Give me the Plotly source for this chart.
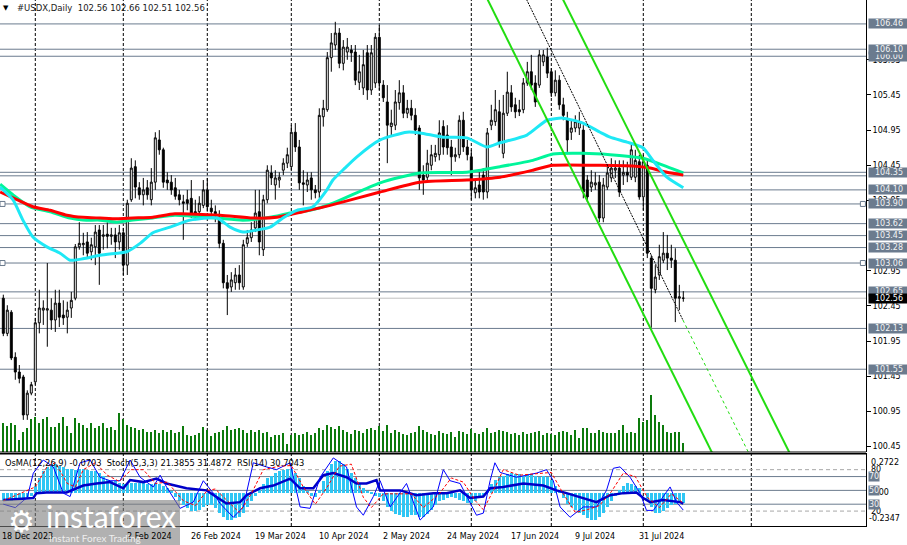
import plotly.graph_objects as go

# ---------------- data ----------------
bars = list(range(171))

opens = [102.56,102.06,102.36,101.72,101.51,101.44,100.90,101.21,101.37,102.21,
         102.39,102.39,102.39,102.25,102.49,102.32,102.29,102.42,102.56,103.29,
         103.32,103.36,103.22,103.29,103.53,103.44,103.47,103.44,103.46,103.36,
         103.49,103.03,103.96,104.43,104.13,104.03,104.13,103.96,104.21,104.81,
         104.67,104.24,104.21,104.13,104.03,103.93,103.96,103.98,103.79,103.79,
         103.88,104.10,103.84,103.79,103.71,103.34,102.78,102.72,102.78,102.89,
         102.72,103.34,103.42,103.56,103.79,103.25,103.96,104.34,104.17,104.24,
         104.38,104.48,104.43,104.92,104.71,104.20,104.17,104.27,104.10,104.07,
         105.14,105.24,105.98,106.16,106.33,105.90,106.06,106.09,106.06,105.63,
         105.55,106.05,105.52,105.62,106.27,105.59,105.35,105.00,105.02,105.34,
         105.48,105.19,105.26,105.16,104.98,104.31,104.28,104.45,104.57,104.60,
         105.00,104.88,104.71,104.57,104.60,105.09,104.71,104.57,104.06,104.17,
         104.31,104.07,105.02,105.07,105.21,104.62,105.19,105.48,105.31,105.24,
         105.24,105.62,105.78,105.62,105.59,105.92,105.99,105.78,105.48,105.66,
         105.31,105.09,104.92,104.98,104.98,104.95,104.24,104.14,104.17,104.21,
         103.70,104.14,104.27,104.38,104.41,104.31,104.35,104.28,104.28,104.50,
         104.00,104.45,103.13,102.68,102.89,103.10,103.20,103.13,103.10,102.56,
         102.56]
highs = [102.61,102.46,102.39,101.79,101.61,101.47,101.25,101.37,102.28,102.68,
         102.53,103.06,102.56,102.68,102.68,102.53,102.51,102.65,103.33,103.64,
         103.49,103.50,103.42,103.60,103.60,103.60,103.64,103.56,103.56,103.60,
         103.56,103.96,104.55,104.52,104.21,104.27,104.24,104.41,104.92,104.95,
         104.70,104.35,104.31,104.27,104.10,104.03,104.10,104.24,103.96,104.01,
         104.24,104.27,103.96,103.88,103.81,103.39,102.89,102.93,102.99,103.03,
         103.39,103.53,103.64,104.10,104.10,104.03,104.45,104.45,104.38,104.35,
         104.55,104.70,105.02,105.05,104.81,104.38,104.35,104.35,104.17,105.26,
         105.38,106.06,106.33,106.49,106.40,106.23,106.26,106.16,106.16,106.02,
         106.09,106.16,106.16,106.33,106.44,105.66,105.59,105.24,105.52,105.66,
         105.59,105.38,105.38,105.26,105.02,104.45,104.67,104.74,104.74,105.09,
         105.09,105.02,104.81,104.70,105.16,105.21,104.81,104.67,104.24,104.35,
         104.41,104.98,105.31,105.52,105.38,105.45,105.78,105.59,105.41,105.38,
         105.69,105.92,106.02,105.73,106.09,106.09,106.12,105.83,105.80,105.73,
         105.41,105.21,105.09,105.16,105.21,105.02,104.31,104.38,104.35,104.31,
         104.27,104.45,104.55,104.52,104.52,104.52,104.50,104.74,104.67,104.60,
         104.60,104.52,103.17,103.03,103.32,103.50,103.46,103.32,103.27,102.75,
         102.66]
lows = [102.02,102.02,101.68,101.40,101.35,100.83,100.83,101.18,101.33,102.06,
        102.18,101.87,102.11,102.08,102.15,102.18,102.06,102.28,102.53,103.25,
        103.17,103.13,103.10,103.03,102.75,103.25,103.27,103.32,103.13,103.25,
        102.89,102.89,103.93,103.98,103.96,103.88,103.96,103.88,104.10,104.60,
        104.13,104.10,104.03,103.96,103.88,103.39,103.81,103.70,103.67,103.73,
        103.84,103.79,103.70,103.64,103.27,102.70,102.32,102.65,102.68,102.68,
        102.68,103.29,103.36,103.50,103.17,103.16,103.91,104.17,103.96,104.13,
        104.31,104.41,104.38,104.64,104.10,103.88,104.07,103.96,103.98,103.98,
        105.00,105.21,105.78,106.09,105.83,105.80,105.95,105.92,105.59,105.52,
        105.45,105.38,105.45,105.55,105.52,105.35,104.48,104.88,104.95,105.24,
        105.12,105.12,105.09,104.88,104.10,104.03,104.20,104.38,104.50,104.52,
        104.60,104.60,104.31,104.50,104.55,104.64,104.52,103.96,103.98,103.98,
        103.96,103.98,104.95,105.01,104.70,104.55,105.15,105.21,105.12,105.15,
        105.19,105.58,105.52,105.28,105.55,105.86,105.69,105.42,105.43,105.24,
        105.09,104.64,104.81,104.92,104.88,103.98,103.93,104.07,104.10,103.64,
        103.64,104.10,104.21,104.27,104.00,104.17,104.21,104.24,104.21,103.96,
        103.81,103.13,102.14,102.63,102.82,103.06,102.96,102.99,102.22,102.39,
        102.51]
closes = [102.06,102.39,101.71,101.51,101.42,100.90,101.21,101.33,102.21,102.42,
          102.42,102.41,102.25,102.49,102.29,102.28,102.39,102.53,103.29,103.34,
          103.34,103.20,103.32,103.50,103.20,103.46,103.44,103.46,103.36,103.49,
          103.03,103.91,104.41,104.14,104.03,104.10,104.03,104.21,104.84,104.67,
          104.21,104.20,104.10,104.01,103.96,103.91,103.91,103.77,103.77,103.91,
          104.10,103.86,103.79,103.76,103.34,102.78,102.70,102.82,102.89,102.78,
          103.32,103.42,103.53,103.77,103.36,103.96,104.38,104.27,104.27,104.28,
          104.48,104.60,104.92,104.71,104.20,104.18,104.24,104.10,104.06,105.16,
          105.26,105.98,106.19,106.33,105.90,106.13,106.13,106.05,105.66,105.78,
          105.88,105.52,106.05,106.27,105.62,105.41,105.02,105.05,105.35,105.48,
          105.19,105.26,105.16,104.95,104.27,104.24,104.48,104.60,104.62,104.91,
          104.71,104.70,104.57,104.60,105.09,104.71,104.60,104.10,104.13,104.07,
          104.07,104.91,105.09,105.24,104.77,105.19,105.49,105.28,105.21,105.21,
          105.62,105.78,105.59,105.35,106.02,106.02,105.76,105.48,105.66,105.31,
          105.16,104.81,104.98,105.07,105.07,104.07,104.00,104.21,104.20,103.70,
          104.17,104.34,104.41,104.41,104.07,104.35,104.31,104.67,104.52,104.00,
          104.50,103.20,102.70,102.86,103.15,103.20,103.13,103.10,102.56,102.58,
          102.56]
volumes = [2900,2600,2900,2700,1200,2000,2400,3300,3500,2900,
           3300,3500,2500,2500,2900,3500,2600,1900,3400,2900,
           2700,2400,2900,2400,2600,2900,2400,2500,2200,3900,
           3300,2700,2500,2400,2200,2300,2000,2000,2200,1900,
           2200,2000,2200,1900,2000,2600,1700,1600,1700,1900,
           2500,2200,1600,1900,2000,2200,2600,2200,2300,2400,
           2200,1900,2200,2000,2200,1900,2000,1500,1700,1700,
           1900,800,1700,1900,1700,1800,2000,1700,1900,2400,
           2200,2700,2500,2300,2600,2200,2000,1800,2200,2100,
           1900,2300,2400,2200,2600,2100,2700,1900,2200,2000,
           1800,1700,1900,2000,2600,2200,2000,1800,1700,2100,
           1900,1800,2000,1500,2100,2000,1800,2300,1900,1800,
           2000,2400,1900,2000,2200,2100,2000,1800,1900,1700,
           2000,1800,1900,2000,2100,1700,1900,1800,1700,2000,
           2100,2000,1700,2200,1400,2400,2400,1900,1900,2200,
           2000,1900,1900,1900,2200,2700,1900,2000,1900,3400,
           3000,3200,5700,3700,3000,2700,2000,1900,2000,2000,
           900]

# moving averages
ma_fast_x = [-0.8,2.4,4.9,7.4,10.9,14.2,16.7,19.9,24.2,28.4,30.9,34.2,37.4,41.7,46.7,
             53.4,56.7,59.9,63.4,66.7,69.9,73.4,77.4,80.9,82.4,85.4,88.4,94.2,100.9,104.2,
             109.9,115.9,120.9,124.2,130.9,135.9,139.9,144.9,149.2,151.7,155.9,159.9,162.4,165.9,170]
ma_fast_y = [104.14,103.96,103.67,103.43,103.29,103.20,103.10,103.12,103.17,103.20,103.22,103.34,103.49,103.57,103.67,
             103.70,103.57,103.50,103.53,103.57,103.70,103.81,103.86,104.10,104.24,104.41,104.57,104.81,104.92,104.91,
             104.85,104.84,104.71,104.77,104.88,105.09,105.12,105.05,104.92,104.85,104.78,104.70,104.52,104.28,104.13]
ma_mid_x = [-0.8,2.4,6.7,11.7,16.7,19.9,24.2,28.4,32.4,37.4,42.9,53.4,59.9,66.7,71.7,
            76.7,82.4,94.2,104.2,115.9,124.2,132.4,137.4,144.9,151.7,159.9,165.9,170]
ma_mid_y = [104.18,104.03,103.86,103.79,103.70,103.67,103.67,103.64,103.67,103.70,103.74,103.70,103.67,103.71,103.77,
            103.81,103.91,104.20,104.34,104.35,104.43,104.52,104.61,104.62,104.60,104.55,104.43,104.34]
ma_slow_x = [-0.8,3.4,7.4,11.7,15.9,19.9,24.2,28.4,32.4,37.4,42.9,54.2,62.4,68.4,74.9,
             81.7,94.2,104.2,115.9,124.2,132.4,137.4,149.2,157.4,161.7,165.9,170]
ma_slow_y = [104.07,103.96,103.86,103.81,103.74,103.71,103.70,103.69,103.70,103.71,103.76,103.74,103.70,103.71,103.79,
             103.88,104.07,104.21,104.24,104.28,104.38,104.45,104.45,104.44,104.41,104.35,104.31]

# channel / trend lines
chan_low_x, chan_low_y = [118, 180], [107.16, 100.04]
chan_up_x, chan_up_y = [137, 200], [107.14, 99.97]
trend_x, trend_y = [129.5, 169.9], [106.96, 102.25]
trend_ext_x, trend_ext_y = [169.9, 188], [102.25, 100.17]

# horizontal levels
levels = [106.46, 106.10, 106.00, 104.35, 104.30, 104.10, 103.90, 103.62,
          103.45, 103.28, 103.06, 102.65, 102.13, 101.55]
level_labels = [106.00, 106.46, 106.10, 104.35, 104.10, 103.90, 103.62,
                103.45, 103.28, 103.06, 102.65, 102.13, 101.55]
anchored_levels = [103.90, 103.06]
last_price = 102.56
price_ticks = [100.45, 100.95, 101.45, 101.95, 102.45, 102.95, 103.95, 104.45,
               104.95, 105.45, 105.95]

# indicator window
osma = [-0.06,-0.06,-0.06,-0.05,-0.05,-0.04,-0.03,-0.02,
        0.05,0.10,0.15,0.18,0.20,0.20,0.19,0.18,0.17,0.17,
        0.16,0.17,0.17,0.16,0.15,0.15,0.14,0.12,0.09,0.08,
        0.08,0.07,0.06,0.06,0.07,0.07,0.07,0.07,0.06,0.06,
        0.07,0.06,0.05,0.03,0.01,-0.03,-0.06,-0.09,-0.11,-0.13,
        -0.13,-0.12,-0.10,-0.09,-0.09,-0.11,-0.14,-0.17,-0.19,-0.19,
        -0.18,-0.17,-0.14,-0.10,-0.06,-0.02,0.02,0.06,0.10,0.12,
        0.14,0.15,0.16,0.17,0.17,0.14,0.10,0.05,0.01,-0.02,
        -0.03,0.02,0.08,0.15,0.20,0.22,0.22,0.20,0.17,0.14,
        0.10,0.06,0.03,0.01,-0.01,-0.02,-0.03,-0.06,-0.10,-0.13,
        -0.15,-0.16,-0.17,-0.17,-0.16,-0.16,-0.17,-0.17,-0.15,-0.12,
        -0.09,-0.06,-0.05,-0.04,-0.03,-0.04,-0.05,-0.06,-0.07,-0.07,
        -0.06,-0.04,-0.02,0.02,0.06,0.09,0.11,0.12,0.13,0.14,
        0.13,0.13,0.12,0.13,0.13,0.12,0.11,0.12,0.11,0.09,
        0.05,0.01,-0.04,-0.08,-0.10,-0.12,-0.14,-0.16,-0.18,-0.19,
        -0.19,-0.17,-0.14,-0.10,-0.06,-0.02,0.02,0.05,0.07,0.06,
        0.05,0.03,0.00,-0.06,-0.10,-0.14,-0.14,-0.13,-0.11,-0.09,
        -0.08,-0.07,-0.0703]
stoch_x = [0,3,6,7.5,10,12.5,15,16.7,19.2,21.7,24.2,26.7,29.2,31.7,34.2,37.5,39.2,40.8,44.2,47.5,
           50,52.5,54.2,57.5,60,62.5,65.8,68.3,71.7,74.2,76.7,79.2,82.5,85.8,88.3,90,92.5,94.2,96.7,100.8,
           104.2,107.5,110,111.7,114.2,117.1,118.3,120,121.7,122.9,124.2,128.3,133.3,135.8,137.5,139.2,
           141.7,145,148.3,150.8,152.5,154.2,156.7,159.2,160.8,162.5,165,166.7,168.3,170]
stoch_main = [30,25,40,75,94,84,46,41,90,94,69,64,64,94,69,55,72,55,24,33,
              64,46,31,11,26,90,84,80,90,26,24,69,97,84,26,14,41,64,26,60,
              7,26,80,64,60,26,14,17,64,90,76,69,75,80,64,26,
              11,26,26,50,82,84,69,46,21,21,41,55,33,21.3855]
signal_x = [0,8,11,13,16,18,20,23,26,29,32,35,38,41,45,48,51,53,56,59,62,65,69,72,75,78,81,84,87,90,
            92,95,98,102,105,109,112,115,118,120,123,125,129,134,137,140,143,146,149,152,155,158,161,164,167,170]
stoch_signal = [35,55,85,90,60,55,80,90,72,63,80,80,60,62,35,28,50,52,35,18,45,80,85,86,55,30,55,85,88,40,
                25,45,45,45,25,45,68,62,35,22,55,80,72,74,76,45,18,22,28,48,75,70,40,25,45,31.4872]
rsi_x = [0,7.5,8.3,10.8,15.8,20,23.3,26.7,30,31.7,35,38.3,40.8,45.8,50.8,53.3,55.8,59.2,60.8,64.2,
         67.5,71.7,74.2,77.5,80,82.5,85.8,88.3,90.8,93.3,94.2,99.2,103.3,107.5,110.8,114.2,116.7,120,
         121.7,125,130,135,138.3,140.8,145,148.3,151.7,155,158.3,160,161.7,165,169.2,170]
rsi = [36,39,46,47,47,57,60,62,53,65,62,67,60,53,50,40,31,33,43,53,
       57,67,53,53,72,75,69,60,60,65,50,50,43,46,46,50,39,41,
       53,55,60,57,50,46,39,33,43,46,47,39,33,36,33,30.7043]
stoch_levels_dashed = [80, 20]
rsi_levels = [70, 50, 30]

# time axis
month_starts = [8, 30, 51, 72, 94, 117, 137, 160, 187]
date_ticks = [31, 47, 63, 79, 95, 111, 127, 143, 159]
date_labels = ["2 Feb 2024", "26 Feb 2024", "19 Mar 2024", "10 Apr 2024",
               "2 May 2024", "24 May 2024", "17 Jun 2024", "9 Jul 2024", "31 Jul 2024"]
first_label = "18 Dec 2023"

# ---------------- layout geometry ----------------
W, H = 907, 545
MR, MB = 41, 19
PW, PH = W - MR, H - MB


def paper_y(px):
    return (PH - px) / PH


def paper_x(px):
    return px / PW


FONT = "DejaVu Sans"
LVL = "#6b7b8e"
NB = "\u00a0"

fig = go.Figure()

fig.add_trace(go.Bar(x=bars, y=volumes, xaxis="x", yaxis="y3", width=0.3,
                     marker=dict(color="#0c7a0c", line=dict(width=0)), showlegend=False,
                     hoverinfo="skip"))
fig.add_trace(go.Candlestick(x=bars, open=opens, high=highs, low=lows, close=closes,
                             xaxis="x", yaxis="y", whiskerwidth=0,
                             increasing=dict(line=dict(color="black", width=1), fillcolor="white"),
                             decreasing=dict(line=dict(color="black", width=1), fillcolor="black"),
                             showlegend=False))
fig.add_trace(go.Scatter(x=ma_mid_x, y=ma_mid_y, mode="lines", xaxis="x", yaxis="y",
                         line=dict(color="#00f59a", width=3, shape="spline", smoothing=0.6),
                         showlegend=False))
fig.add_trace(go.Scatter(x=ma_slow_x, y=ma_slow_y, mode="lines", xaxis="x", yaxis="y",
                         line=dict(color="#ff0000", width=3, shape="spline", smoothing=0.6),
                         showlegend=False))
fig.add_trace(go.Scatter(x=ma_fast_x, y=ma_fast_y, mode="lines", xaxis="x", yaxis="y",
                         line=dict(color="#1ee8f5", width=3, shape="spline", smoothing=0.6),
                         showlegend=False))
for cx, cy in [(chan_low_x, chan_low_y), (chan_up_x, chan_up_y)]:
    fig.add_trace(go.Scatter(x=cx, y=cy, mode="lines", xaxis="x", yaxis="y",
                             line=dict(color="#22dd11", width=2), showlegend=False))
fig.add_trace(go.Scatter(x=trend_x, y=trend_y, mode="lines", xaxis="x", yaxis="y",
                         line=dict(color="black", width=1, dash="2px,1px"), showlegend=False))
fig.add_trace(go.Scatter(x=trend_ext_x, y=trend_ext_y, mode="lines", xaxis="x", yaxis="y",
                         line=dict(color="#22dd11", width=1, dash="3px,3px"), showlegend=False))
fig.add_trace(go.Scatter(x=[-0.2] * len(anchored_levels) + [214.9] * len(anchored_levels),
                         y=anchored_levels * 2, mode="markers", xaxis="x", yaxis="y",
                         marker=dict(symbol="square", size=5, color="white",
                                     line=dict(color=LVL, width=1)),
                         cliponaxis=False, showlegend=False))

# indicator window
fig.add_trace(go.Bar(x=bars, y=osma, xaxis="x2", yaxis="y2", width=0.6,
                     marker=dict(color="#2fc6f4", line=dict(width=0)), showlegend=False))
fig.add_trace(go.Scatter(x=rsi_x, y=rsi, mode="lines", xaxis="x2", yaxis="y4",
                         line=dict(color="#0000c8", width=2.5), showlegend=False))
fig.add_trace(go.Scatter(x=stoch_x, y=stoch_main, mode="lines", xaxis="x2", yaxis="y4",
                         line=dict(color="#0000ff", width=1), showlegend=False))
fig.add_trace(go.Scatter(x=signal_x, y=stoch_signal, mode="lines", xaxis="x2", yaxis="y4",
                         line=dict(color="#ff0000", width=1, dash="3px,2px"), showlegend=False))

shapes = []
for b in month_starts:
    shapes.append(dict(type="line", xref="x", yref="paper", x0=b, x1=b, y0=0, y1=1,
                       line=dict(color="black", width=1, dash="3px,2px"), layer="below"))
for v in levels:
    shapes.append(dict(type="line", xref="paper", yref="y", x0=0, x1=1, y0=v, y1=v,
                       line=dict(color=LVL, width=1), layer="below"))
shapes.append(dict(type="line", xref="paper", yref="y", x0=0, x1=1, y0=last_price, y1=last_price,
                   line=dict(color="#c0c0c0", width=1), layer="below"))
for v in stoch_levels_dashed:
    shapes.append(dict(type="line", xref="paper", yref="y4", x0=0, x1=1, y0=v, y1=v,
                       line=dict(color="#a8a8a8", width=1, dash="4px,3px"), layer="below"))
for v in rsi_levels:
    shapes.append(dict(type="line", xref="paper", yref="y4", x0=0, x1=1, y0=v, y1=v,
                       line=dict(color=LVL, width=1), layer="below"))
# panel separators
shapes.append(dict(type="line", xref="paper", yref="paper", x0=0, x1=1,
                   y0=paper_y(452), y1=paper_y(452), line=dict(color="black", width=1)))
shapes.append(dict(type="line", xref="paper", yref="paper", x0=0, x1=1,
                   y0=paper_y(454), y1=paper_y(454), line=dict(color="black", width=1)))
# logo plate
shapes.append(dict(type="rect", xref="paper", yref="paper", x0=0, x1=paper_x(180),
                   y0=paper_y(546), y1=paper_y(500), fillcolor="rgba(125,125,125,0.6)",
                   line=dict(width=0), layer="above"))

ann = []
small = dict(family=FONT, size=8, color="black")
ann.append(dict(xref="paper", yref="paper", x=paper_x(1), y=paper_y(8), xanchor="left",
                yanchor="middle", showarrow=False, font=dict(family=FONT, size=7, color="black"),
                text="\u25bc"))
ann.append(dict(xref="paper", yref="paper", x=paper_x(15), y=paper_y(8), xanchor="left",
                yanchor="middle", showarrow=False, font=dict(family=FONT, size=8.5, color="#1a1a1a"),
                text="#USDX,Daily" + NB * 2 + "102.56 102.66 102.51 102.56"))
ann.append(dict(xref="paper", yref="paper", x=paper_x(3), y=paper_y(463), xanchor="left",
                yanchor="middle", showarrow=False, font=dict(family=FONT, size=8.3, color="black"),
                text="OsMA(12,26,9) -0.0703" + NB * 2 + "Stoch(5,3,3) 21.3855 31.4872" + NB * 2
                     + "RSI(14) 30.7043"))
# level label boxes
for v in level_labels:
    ann.append(dict(xref="paper", yref="y", x=1, y=v, xanchor="left", yanchor="middle",
                    xshift=2, showarrow=False, text=f"{v:.2f}", width=40, align="center",
                    font=dict(family=FONT, size=8, color="#f4f4f4"), bgcolor=LVL, borderpad=0))
ann.append(dict(xref="paper", yref="y", x=1, y=last_price, xanchor="left", yanchor="middle",
                xshift=2, showarrow=False, text=f"{last_price:.2f}", width=40, align="center",
                font=dict(family=FONT, size=8, color="white"), bgcolor="black", borderpad=0))
# indicator scale labels
ann.append(dict(xref="paper", yref="y2", x=1, y=0.2722, xanchor="left", yanchor="top", xshift=3,
                yshift=-2, showarrow=False, text="0.2722", font=small))
ann.append(dict(xref="paper", yref="y2", x=1, y=-0.2347, xanchor="left", yanchor="bottom", xshift=1,
                yshift=1, showarrow=False, text="-0.2347", font=small))
ann.append(dict(xref="paper", yref="y2", x=1, y=0, xanchor="left", yanchor="middle", xshift=3,
                showarrow=False, text="0.00", font=small))
for v in stoch_levels_dashed:
    ann.append(dict(xref="paper", yref="y4", x=1, y=v, xanchor="left", yanchor="middle", xshift=3,
                    showarrow=False, text=str(v), font=small))
for v in rsi_levels:
    ann.append(dict(xref="paper", yref="y4", x=1, y=v, xanchor="left", yanchor="middle", xshift=2,
                    showarrow=False, text=str(v), font=dict(family=FONT, size=8, color="#f4f4f4"),
                    bgcolor=LVL, borderpad=0))
# date labels
ann.append(dict(xref="paper", yref="paper", x=0, y=paper_y(536), xanchor="left", yanchor="middle",
                showarrow=False, text=first_label, font=small))
for b, t in zip(date_ticks, date_labels):
    ann.append(dict(xref="x", yref="paper", x=b, y=paper_y(536), xanchor="left", yanchor="middle",
                    xshift=-2, showarrow=False, text=t, font=small))
# logo
ann.append(dict(xref="paper", yref="paper", x=paper_x(6), y=paper_y(521), xanchor="left",
                yanchor="middle", showarrow=False, text="\u2699",
                font=dict(family="DejaVu Sans", size=30, color="white")))
ann.append(dict(xref="paper", yref="paper", x=paper_x(44), y=paper_y(516), xanchor="left",
                yanchor="middle", showarrow=False, text="instaforex",
                font=dict(family="Lato", size=30, color="white")))
ann.append(dict(xref="paper", yref="paper", x=paper_x(47), y=paper_y(538), xanchor="left",
                yanchor="middle", showarrow=False, text="Instant Forex Trading",
                font=dict(family="Lato", size=10, color="#eeeeee")))

xr = [-0.825, 215.675]
fig.update_layout(
    width=W, height=H, margin=dict(l=0, r=MR, t=0, b=MB),
    paper_bgcolor="white", plot_bgcolor="white", showlegend=False, bargap=0,
    xaxis=dict(domain=[0, 1], range=xr, anchor="y", showticklabels=False, showgrid=False,
               zeroline=False, rangeslider=dict(visible=False), showline=False, ticks=""),
    yaxis=dict(domain=[paper_y(452), 1], range=[100.373, 106.80], side="right", anchor="x",
               tickmode="array", tickvals=price_ticks, tickformat=".2f", ticks="outside",
               ticklen=4, tickcolor="black", showline=True, linecolor="black", linewidth=1,
               showgrid=False, zeroline=False, tickfont=small),
    yaxis3=dict(overlaying="y", range=[0, 45200], visible=False, anchor="x"),
    xaxis2=dict(domain=[0, 1], range=xr, anchor="y2", matches="x", showticklabels=False,
                showgrid=False, zeroline=False, showline=True, mirror=True, linecolor="black",
                ticks=""),
    yaxis2=dict(domain=[0, paper_y(454)], range=[-0.2347, 0.2722], side="right", anchor="x2",
                showticklabels=False, ticks="", showline=True, linecolor="black",
                showgrid=False, zeroline=False),
    yaxis4=dict(overlaying="y2", range=[-1.6, 102.7], visible=False, anchor="x2"),
    shapes=shapes, annotations=ann,
)

fig.write_html("out.html")
